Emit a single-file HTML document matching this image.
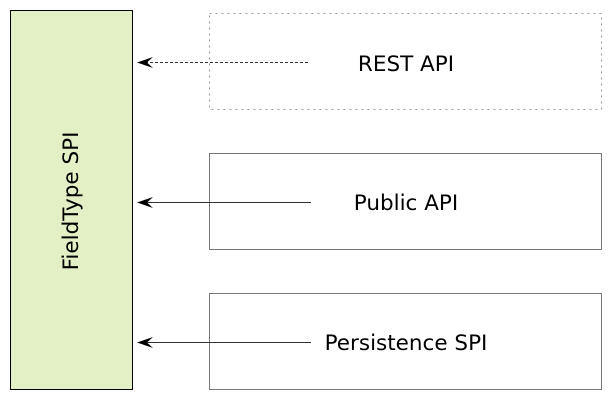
<!DOCTYPE html>
<html><head><style>body{margin:0;background:#fff}</style></head><body>
<svg width="613" height="402" xmlns="http://www.w3.org/2000/svg" font-family="'DejaVu Sans','Liberation Sans',sans-serif">
<rect x="10.5" y="10.5" width="122" height="379" fill="#e3efc4" stroke="#000" stroke-width="1"/>
<text transform="translate(78,201) rotate(-90)" text-anchor="middle" font-size="21.5" fill="#000">FieldType SPI</text>
<rect x="209.5" y="13.5" width="392" height="96" fill="none" stroke="#999" stroke-dasharray="2,4"/>
<rect x="209.5" y="153.5" width="392" height="96" fill="none" stroke="#777"/>
<rect x="209.5" y="293.5" width="392" height="96" fill="none" stroke="#777"/>
<text x="406" y="71" text-anchor="middle" font-size="21.5">REST API</text>
<text x="406" y="210" text-anchor="middle" font-size="21.5">Public API</text>
<text x="406" y="350" text-anchor="middle" font-size="21.5">Persistence SPI</text>
<line x1="145" y1="62.5" x2="309" y2="62.5" stroke="#333" stroke-dasharray="3,2"/>
<line x1="145" y1="202.5" x2="311" y2="202.5" stroke="#333"/>
<line x1="145" y1="342.5" x2="311" y2="342.5" stroke="#333"/>
<path d="M137,62.5 L153,57 L147,62.5 L153,68 Z" fill="#000"/>
<path d="M137,202.5 L153,197 L147,202.5 L153,208 Z" fill="#000"/>
<path d="M137,342.5 L153,337 L147,342.5 L153,348 Z" fill="#000"/>
</svg>
</body></html>
